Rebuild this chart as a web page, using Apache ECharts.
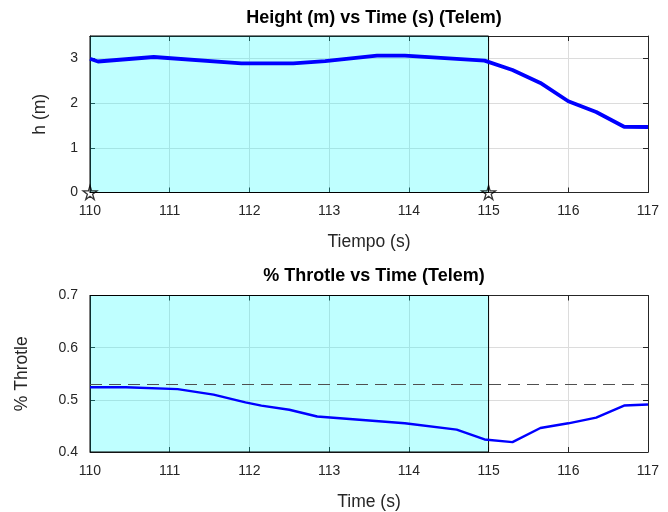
<!DOCTYPE html>
<html>
<head>
<meta charset="utf-8">
<script src="https://cdn.jsdelivr.net/npm/echarts@6/dist/echarts.min.js"></script>
<style>html,body{margin:0;padding:0;background:#fff}#c{width:668px;height:512px}</style>
</head>
<body>
<div id="c"></div>
<script>
// ---- data ----
const heightTime = [110.0, 110.1, 110.8, 111.9, 112.55, 112.95, 113.6, 113.95, 114.95, 115.3, 115.65, 116.0, 116.35, 116.7, 117.0];
const heightVals = [2.99, 2.93, 3.03, 2.89, 2.89, 2.94, 3.06, 3.06, 2.95, 2.74, 2.45, 2.04, 1.80, 1.47, 1.465];
const throttleTime = [110.0, 110.45, 111.1, 111.55, 111.95, 112.15, 112.5, 112.85, 113.95, 114.6, 114.95, 115.3, 115.65, 116.0, 116.35, 116.7, 117.0];
const throttleVals = [0.524, 0.524, 0.5205, 0.510, 0.495, 0.489, 0.481, 0.468, 0.455, 0.443, 0.424, 0.419, 0.446, 0.455, 0.466, 0.489, 0.491];
const shadeRange = [110, 115];
const starPoints = [[110, 0], [115, 0]];
const throttleRef = 0.525;
const titles = ['Height (m) vs Time (s) (Telem)', '% Throtle vs Time (Telem)'];
const xNames = ['Tiempo (s)', 'Time (s)'];
const yNames = ['h (m)', '% Throtle'];

const FONT = 'Liberation Sans, Arial, sans-serif';
const AX = '#262626';
const pair = (t, v) => t.map((x, i) => [x, v[i]]);

function xAx(g, name) {
  return [{
    gridIndex: g, type: 'value', min: 110, max: 117, interval: 1, position: 'bottom',
    name: name, nameLocation: 'middle', nameGap: 41,
    nameTextStyle: {fontFamily: FONT, fontSize: 17.5, color: AX},
    axisLine: {onZero: false, lineStyle: {color: AX, width: 1}},
    axisTick: {inside: true, length: 5, lineStyle: {color: AX}},
    axisLabel: {margin: 12, fontFamily: FONT, fontSize: 14, color: AX},
    splitLine: {show: true, lineStyle: {color: '#dcdcdc', width: 1}}
  }, {
    gridIndex: g, type: 'value', min: 110, max: 117, interval: 1, position: 'top',
    axisLine: {onZero: false, lineStyle: {color: AX, width: 1}},
    axisTick: {inside: true, length: 5, lineStyle: {color: AX}},
    axisLabel: {show: false}, splitLine: {show: false}
  }];
}
function yAx(g, name, min, max, interval, fmt, gap) {
  return [{
    gridIndex: g, type: 'value', min: min, max: max, interval: interval, position: 'left',
    name: name, nameLocation: 'middle', nameGap: gap,
    nameTextStyle: {fontFamily: FONT, fontSize: 17.5, color: AX},
    axisLine: {show: true, onZero: false, lineStyle: {color: AX, width: 1}},
    axisTick: {show: true, inside: true, length: 5, lineStyle: {color: AX}},
    axisLabel: {margin: 12, fontFamily: FONT, fontSize: 14, color: AX, showMaxLabel: g === 0 ? false : true, formatter: fmt},
    splitLine: {show: true, lineStyle: {color: '#dcdcdc', width: 1}}
  }, {
    gridIndex: g, type: 'value', min: min, max: max, interval: interval, position: 'right',
    axisLine: {show: true, onZero: false, lineStyle: {color: AX, width: 1}},
    axisTick: {show: true, inside: true, length: 5, lineStyle: {color: AX}},
    axisLabel: {show: false}, splitLine: {show: false}
  }];
}

const shade = {
  silent: true,
  itemStyle: {color: 'rgba(0,255,255,0.25)', borderColor: '#000', borderWidth: 1},
  data: [[{xAxis: shadeRange[0]}, {xAxis: shadeRange[1]}]]
};

const star = 'path://M50,0 L61,35 L98,35 L68,57 L79,91 L50,70 L21,91 L32,57 L2,35 L39,35 Z';

const option = {
  animation: false,
  backgroundColor: '#fff',
  title: [
    {text: titles[0], left: 369, top: 4, textAlign: 'center', textStyle: {fontFamily: FONT, fontSize: 18, fontWeight: 'bold', color: '#000'}},
    {text: titles[1], left: 369, top: 262, textAlign: 'center', textStyle: {fontFamily: FONT, fontSize: 18, fontWeight: 'bold', color: '#000'}}
  ],
  grid: [
    {left: 90, right: 20, top: 36, height: 156.5},
    {left: 90, right: 20, top: 295.5, height: 156.5}
  ],
  xAxis: [...xAx(0, xNames[0]), ...xAx(1, xNames[1])],
  yAxis: [
    ...yAx(0, yNames[0], 0, 3.5, 1, v => String(v), 41),
    ...yAx(1, yNames[1], 0.4, 0.7, 0.1, v => v.toFixed(1), 59)
  ],
  series: [
    {
      type: 'line', xAxisIndex: 0, yAxisIndex: 0, data: pair(heightTime, heightVals),
      showSymbol: false, lineStyle: {color: '#0000ff', width: 3.8}, z: 3,
      markArea: shade
    },
    {
      type: 'scatter', xAxisIndex: 0, yAxisIndex: 0, data: starPoints, symbol: star, symbolSize: 14,
      clip: false, z: 5, itemStyle: {color: 'rgba(255,255,255,0)', borderColor: '#000', borderWidth: 1.3}
    },
    {
      type: 'line', xAxisIndex: 2, yAxisIndex: 2, data: pair(throttleTime, throttleVals),
      showSymbol: false, lineStyle: {color: '#0000ff', width: 2.4}, z: 3,
      markArea: shade,
      markLine: {
        silent: true, symbol: 'none', label: {show: false},
        lineStyle: {color: '#505050', type: [12, 7], width: 1.2},
        data: [{yAxis: throttleRef}]
      }
    }
  ]
};
echarts.init(document.getElementById('c'), null, {renderer: 'canvas'}).setOption(option);
</script>
</body>
</html>
